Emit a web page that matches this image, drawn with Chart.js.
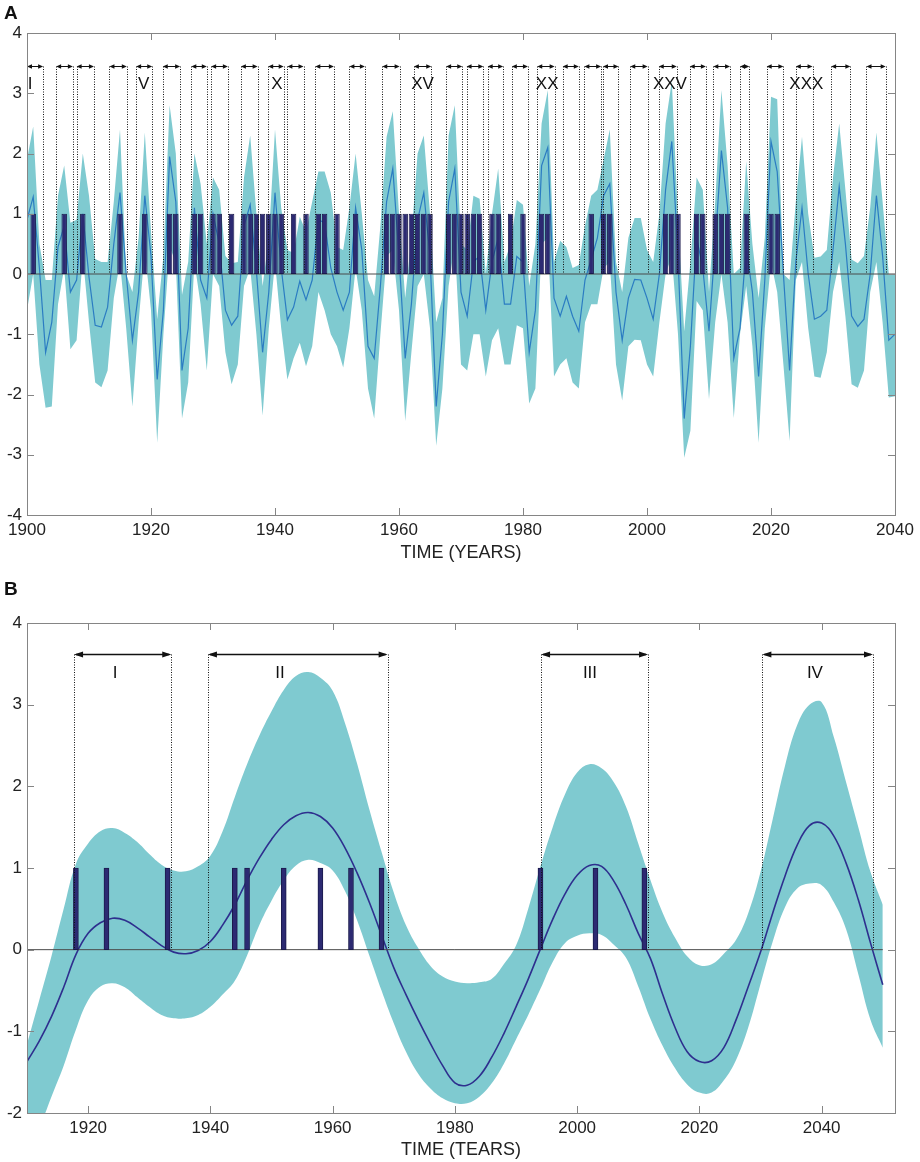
<!DOCTYPE html>
<html>
<head>
<meta charset="utf-8">
<script src="https://cdn.jsdelivr.net/npm/chart.js@4.4.1/dist/chart.umd.min.js"></script>
<style>
  html, body { margin: 0; padding: 0; background: #fff; }
  #wrap { position: relative; width: 920px; height: 1162px; font-family: "Liberation Sans", Arial, sans-serif; }
  .panel { position: absolute; left: 0; width: 920px; }
  .tag { position: absolute; left: 4px; font-weight: bold; font-size: 19px; line-height: 1; color: #111; }
</style>
</head>
<body>
<div id="wrap">
  <div class="panel" style="top:0;height:575px"><canvas id="chartA" width="920" height="575"></canvas></div>
  <div class="panel" style="top:575px;height:587px"><canvas id="chartB" width="920" height="587"></canvas></div>
  <div class="tag" style="top:3px">A</div>
  <div class="tag" style="top:579px">B</div>
</div>
<script>
// ---- panel A : yearly series 1900-2040 ----
const firstYearA = 1900;
const lineA = [
  0.9, 1.28, 0.1, -1.3, -0.8, 0.45, 0.8, -0.3, -0.1, 1.0,
  -0.05, -0.85, -0.88, -0.55, 0.5, 1.35, 0.0, -1.1, -0.3, 1.3,
  0.3, -1.75, -0.6, 1.95, 1.2, -1.6, -0.9, 1.1, -0.1, -0.4,
  1.0, 0.5, -0.6, -0.85, -0.7, 0.8, 1.15, 0.05, -1.3, -0.3,
  1.35, 0.1, -0.76, -0.55, -0.12, -0.43, -0.1, 0.9, 0.85, 0.1,
  -0.3, -0.6, -0.3, 1.1, 0.4, -1.2, -1.4, -0.2, 1.2, 1.75,
  0.3, -1.4, -0.5, 0.9, 1.35, 0.3, -2.2, -1.0, 1.2, 1.75,
  -0.3, -0.7, 0.2, 0.3, -0.6, 0.2, 0.6, -0.5, -0.5, 0.29,
  0.2, -1.3, -0.6, 1.8, 2.1, -0.4, -0.7, -0.37, -0.7, -0.95,
  -0.1, 0.24, 0.6, 1.3, 1.5, -0.3, -1.1, -0.4, -0.09, -0.1,
  -0.4, -0.75, 0.0, 1.4, 2.2, 0.3, -2.4, -1.2, 0.6, 0.1,
  -0.95, 0.5, 2.05, 1.1, -1.4, -0.9, 0.46, -0.3, -1.7, -0.1,
  2.2, 1.7, 0.0, -1.6, 0.2, 1.1, 0.0, -0.75, -0.7, -0.6,
  0.4, 1.45, 0.5, -0.7, -0.87, -0.75, 0.0, 1.3, 0.3, -1.1,
  -1.0
];
const upperA = [
  1.9, 2.45, 0.5, -0.1, -0.1, 1.3, 1.8, 0.85, 0.9, 2.0,
  1.3, 0.25, 0.2, 0.2, 1.2, 2.4, 0.0, -0.3, 0.6, 2.35,
  0.7, -0.75, 0.3, 2.8, 2.0, -0.35, 0.2, 2.0, 1.5, 0.5,
  1.6, 1.4, 0.3, 0.18, 0.2, 1.6, 2.3, 1.0, -0.2, 0.6,
  2.4, 1.1, 0.4, 0.35, 0.95, 0.7, 1.2, 1.7, 1.7, 1.35,
  0.45, 0.4, 1.1, 2.0, 1.0, -0.1, -0.37, 0.8, 2.28, 2.7,
  1.0, -0.4, 0.6, 2.0, 2.3, 1.0, -0.8, -0.4, 2.3, 2.8,
  0.5, 0.4, 1.3, 1.25, 0.0, 1.0, 1.75, 0.2, 0.5, 1.23,
  1.15, -0.2, 0.5, 2.5, 3.05, 0.2, 0.55, 0.45, 0.1, 0.15,
  0.8, 1.3, 1.4, 1.9, 2.4, 0.2, -0.3, 0.6, 0.93, 0.93,
  0.4, 0.2, 1.0, 2.5, 3.2, 0.9, -0.95, 0.2, 1.6, 1.4,
  -0.3, 1.2, 3.05, 1.8, 0.0, 0.1, 1.87, 0.5, -0.4, 0.6,
  2.94, 2.9, 0.0, -0.1, 1.2, 2.28, 1.0, 0.27, 0.29, 0.4,
  1.6, 2.5, 1.4, 0.24, 0.18, 0.3, 1.1, 2.35, 1.2, 0.0,
  0.0
];
const lowerA = [
  -0.6, 0.0, -1.5, -2.22, -2.2, -0.5, 0.1, -1.25, -1.1, 0.3,
  -0.8, -1.8, -1.88, -1.6, -0.4, 0.2, -0.9, -2.2, -0.8, 0.4,
  -0.6, -2.8, -1.0, 0.45, 0.2, -2.4, -1.8, 0.2, -0.5, -1.6,
  0.0, -0.2, -1.3, -1.83, -1.5, -0.2, 0.1, -1.0, -2.35, -0.9,
  0.2, -0.9, -1.75, -1.4, -1.14, -1.53, -1.2, -0.3, -0.6, -1.0,
  -1.2, -1.55, -0.9, 0.1, -0.6, -1.9, -2.4, -1.0, 0.3, 0.4,
  -0.6, -2.44, -1.3, -0.2, 0.0, -0.9, -2.85, -1.9, -0.2, 0.5,
  -1.5, -1.6, -1.0, -1.0, -1.7, -1.1, -0.9, -1.5, -1.5, -0.85,
  -0.9, -2.15, -1.9, 0.5, 0.6, -1.7, -1.5, -1.4, -1.8, -1.9,
  -0.8, -0.5, -0.5, 0.1, 0.2, -1.5, -2.1, -1.2, -1.09, -1.1,
  -1.5, -1.7, -0.8, 0.0, 0.3, -1.0, -3.05, -2.6, -0.45, -0.6,
  -2.08, -0.8, 0.0, -0.8, -2.39, -1.0, -0.2, -1.2, -2.8, -0.9,
  0.2, -0.3, -1.5, -2.77, -0.1, 0.2, -0.9, -1.7, -1.72, -1.3,
  -0.3, 0.2, -0.7, -1.83, -1.89, -1.6, -0.3, 0.2, -0.8, -2.05,
  -2.03
];
const barYearsA = [1901, 1906, 1909, 1915, 1919, 1923, 1924, 1927, 1928, 1930, 1931, 1933,
  1935, 1936, 1937, 1938, 1939, 1940, 1941, 1943, 1945, 1947, 1948, 1950, 1953,
  1958, 1959, 1960, 1961, 1962, 1963, 1964, 1965, 1968, 1969, 1970, 1971, 1972, 1973,
  1975, 1976, 1978, 1980, 1983, 1984, 1991, 1993, 1994, 2003, 2004, 2005,
  2008, 2009, 2011, 2012, 2013, 2016, 2020, 2021];
const cyclesA = [
  [1900.0, 1902.6], [1904.7, 1907.4], [1908.0, 1910.8], [1913.3, 1916.1], [1917.6, 1920.2],
  [1921.9, 1924.7], [1926.5, 1929.0], [1929.7, 1932.4], [1934.5, 1937.2], [1938.9, 1941.4],
  [1942.0, 1944.6], [1946.5, 1949.5], [1952.0, 1954.5], [1957.3, 1960.1], [1962.4, 1965.2],
  [1967.6, 1970.2], [1970.9, 1973.6], [1974.3, 1976.8], [1978.2, 1980.8], [1982.3, 1985.1],
  [1986.4, 1989.0], [1989.9, 1992.6], [1992.9, 1995.4], [1997.3, 2000.1], [2001.9, 2004.8],
  [2006.9, 2009.5], [2010.7, 2013.4], [2015.0, 2016.5], [2019.3, 2022.0], [2024.0, 2026.7],
  [2029.7, 2032.8], [2035.4, 2038.5]
];
const romanA = ['I', 'V', 'X', 'XV', 'XX', 'XXV', 'XXX'];
const romanYearA = [1900.5, 1918.8, 1940.3, 1963.8, 1983.9, 2003.7, 2025.7];
const xTicksA = [1900, 1920, 1940, 1960, 1980, 2000, 2020, 2040];
const yTicksA = [-4, -3, -2, -1, 0, 1, 2, 3, 4];

// ---- panel B : smoothed series 1910-2050, every 2 years ----
const firstYearB = 1910;
const stepB = 2;
const lineB = [
  -1.37, -1.12, -0.82, -0.46, -0.06, 0.2, 0.33, 0.385, 0.36, 0.27,
  0.16, 0.05, -0.03, -0.05, -0.01, 0.1, 0.3, 0.55, 0.85, 1.12,
  1.35, 1.53, 1.64, 1.68, 1.63, 1.49, 1.25, 0.94, 0.58, 0.18,
  -0.22, -0.55, -0.86, -1.15, -1.42, -1.63, -1.66, -1.55, -1.32, -1.03,
  -0.7, -0.36, 0.01, 0.37, 0.68, 0.91, 1.03, 1.02, 0.84, 0.55,
  0.2, -0.11, -0.55, -0.95, -1.25, -1.37, -1.36, -1.2, -0.86, -0.45,
  -0.03, 0.45, 0.9, 1.28, 1.52, 1.55, 1.39, 1.06, 0.61, 0.08,
  -0.43
];
const upperB = [
  -1.16, -0.62, -0.08, 0.5, 1.05, 1.3, 1.45, 1.49, 1.43, 1.32,
  1.17, 1.04, 0.97, 0.96, 1.02, 1.15, 1.45, 1.87, 2.27, 2.62,
  2.92, 3.18, 3.35, 3.4, 3.33, 3.17, 2.78, 2.28, 1.72, 1.2,
  0.7, 0.3, 0.02, -0.2, -0.33, -0.39, -0.41, -0.4, -0.36, -0.18,
  0.05, 0.5, 1.02, 1.5, 1.9, 2.17, 2.27, 2.22, 2.05, 1.75,
  1.3, 0.85, 0.45, 0.15, -0.08, -0.19, -0.18, -0.05, 0.12, 0.45,
  0.95, 1.6, 2.25, 2.75, 3.0, 3.03, 2.6, 2.05, 1.5, 0.95,
  0.55
];
const lowerB = [
  -2.6, -2.2, -1.8, -1.42, -0.98, -0.62, -0.45, -0.41, -0.46, -0.58,
  -0.7, -0.8, -0.84, -0.84, -0.8, -0.7, -0.55, -0.38, -0.07, 0.3,
  0.6, 0.85, 1.03, 1.1, 1.06, 0.97, 0.72, 0.36, -0.07, -0.5,
  -0.9, -1.25, -1.52, -1.7, -1.82, -1.88, -1.88, -1.8, -1.64, -1.4,
  -1.1, -0.8, -0.48, -0.15, 0.08, 0.17, 0.2, 0.18, 0.06, -0.1,
  -0.45, -0.85, -1.18, -1.45, -1.65, -1.75, -1.75, -1.6, -1.35, -0.95,
  -0.42, 0.1, 0.52, 0.75, 0.81, 0.79, 0.58, 0.25, -0.3, -0.86,
  -1.2
];
const barYearsB = [1918, 1923, 1933, 1944, 1946, 1952, 1958, 1963, 1968, 1994, 2003, 2011];
const cyclesB = [[1917.7, 1933.6], [1939.6, 1969.0], [1994.1, 2011.6], [2030.3, 2048.4]];
const romanB = ['I', 'II', 'III', 'IV'];
const romanYearB = [1924.4, 1951.4, 2002.1, 2038.9];
const xTicksB = [1920, 1940, 1960, 1980, 2000, 2020, 2040];
const yTicksB = [-2, -1, 0, 1, 2, 3, 4];

const fam = '"Liberation Sans", Arial, Helvetica, sans-serif';

// box with inward tick marks on all four sides
const framePlugin = {
  id: 'frame',
  afterDraw(chart) {
    const {ctx, chartArea: a, scales: {x, y}} = chart;
    ctx.save();
    ctx.strokeStyle = '#858585';
    ctx.lineWidth = 1;
    ctx.strokeRect(Math.round(a.left) + 0.5, Math.round(a.top) + 0.5, Math.round(a.width), Math.round(a.height));
    ctx.beginPath();
    x.ticks.forEach(t => {
      const px = Math.round(x.getPixelForValue(t.value)) + 0.5;
      ctx.moveTo(px, a.bottom); ctx.lineTo(px, a.bottom - 7);
      ctx.moveTo(px, a.top); ctx.lineTo(px, a.top + 7);
    });
    y.ticks.forEach(t => {
      const py = Math.round(y.getPixelForValue(t.value)) + 0.5;
      ctx.moveTo(a.left, py); ctx.lineTo(a.left + 7, py);
      ctx.moveTo(a.right, py); ctx.lineTo(a.right - 7, py);
    });
    ctx.stroke();
    ctx.restore();
  }
};

// dotted cycle limits, double arrows and roman numerals
const cyclePlugin = {
  id: 'cycles',
  afterDatasetsDraw(chart, args, o) {
    const {ctx, scales: {x, y}} = chart;
    const y0 = y.getPixelForValue(0);
    const ya = Math.round(y.getPixelForValue(o.arrowY)) + 0.5;
    ctx.save();
    ctx.strokeStyle = '#111';
    ctx.lineWidth = 1;
    ctx.setLineDash([1, 1.5]);
    o.cycles.forEach(c => c.forEach(v => {
      const px = Math.round(x.getPixelForValue(v)) + 0.5;
      ctx.beginPath(); ctx.moveTo(px, ya); ctx.lineTo(px, y0); ctx.stroke();
    }));
    ctx.setLineDash([]);
    ctx.lineWidth = o.arrowWidth;
    ctx.fillStyle = '#111';
    const head = (px, dir) => {
      ctx.beginPath();
      ctx.moveTo(px, ya);
      ctx.lineTo(px + dir * o.headLen, ya - o.headHalf);
      ctx.lineTo(px + dir * o.headLen, ya + o.headHalf);
      ctx.closePath(); ctx.fill();
    };
    o.cycles.forEach(([s, e]) => {
      const x1 = x.getPixelForValue(s), x2 = x.getPixelForValue(e);
      ctx.beginPath(); ctx.moveTo(x1 + 2, ya); ctx.lineTo(x2 - 2, ya); ctx.stroke();
      head(x1, 1); head(x2, -1);
    });
    ctx.font = o.font;
    ctx.textAlign = 'center';
    ctx.textBaseline = 'middle';
    o.labels.forEach((t, i) => ctx.fillText(t, x.getPixelForValue(o.labelX[i]), y.getPixelForValue(o.labelY)));
    ctx.restore();
  }
};

function panel(id, d) {
  const pts = arr => arr.map((v, i) => ({x: d.years[i], y: v}));
  const last = d.years[d.years.length - 1];
  return new Chart(document.getElementById(id), {
    type: 'line',
    data: {
      datasets: [
        {data: pts(d.upper), borderWidth: 0, pointRadius: 0, backgroundColor: '#7fcad0', fill: '+1',
         tension: d.tension, order: 10},
        {data: pts(d.lower), borderWidth: 0, pointRadius: 0, fill: false,
         tension: d.tension, order: 10},
        {data: pts(d.line), borderColor: d.lineColor, borderWidth: d.lineWidth, pointRadius: 0, fill: false,
         tension: d.tension, order: 6},
        {data: [{x: d.years[0], y: 0}, {x: last, y: 0}], borderColor: '#4a4a4a', borderWidth: 1,
         pointRadius: 0, fill: false, order: 5},
        {type: 'bar', data: d.bars.map(b => ({x: b, y: 1})), backgroundColor: '#2c2a72',
         borderColor: '#1b1a4c', borderWidth: 1, borderSkipped: false,
         barPercentage: d.barPct, categoryPercentage: 1, barThickness: d.barThickness, order: 2}
      ]
    },
    options: {
      responsive: false,
      animation: false,
      events: [],
      layout: {padding: {top: d.padTop, right: 25, left: 0, bottom: 0}},
      plugins: {
        legend: {display: false},
        tooltip: {enabled: false},
        cycles: {cycles: d.cycles, arrowY: d.arrowY, labels: d.roman, labelX: d.romanX, labelY: d.romanY,
                 font: d.romanFont, arrowWidth: d.arrowWidth, headLen: d.headLen, headHalf: d.headHalf}
      },
      scales: {
        x: {
          type: 'linear', min: d.xMin, max: d.xMax, offset: false,
          grid: {display: false, drawTicks: false}, border: {display: false},
          afterBuildTicks: s => { s.ticks = d.xTicks.map(v => ({value: v})); },
          afterFit: s => { s.height = d.xAxisH; },
          ticks: {font: {family: fam, size: 17}, color: '#222', padding: 5, maxRotation: 0, autoSkip: false,
                  callback: v => String(v)},
          title: {display: true, text: d.xTitle, font: {family: fam, size: 18}, color: '#222',
                  padding: {top: 0, bottom: d.titlePad}}
        },
        y: {
          type: 'linear', min: d.yMin, max: d.yMax,
          grid: {display: false, drawTicks: false}, border: {display: false},
          afterBuildTicks: s => { s.ticks = d.yTicks.map(v => ({value: v})); },
          afterFit: s => { s.width = 27; },
          ticks: {font: {family: fam, size: 17}, color: '#222', padding: 5, callback: v => String(v)}
        }
      }
    },
    plugins: [cyclePlugin, framePlugin]
  });
}

panel('chartA', {
  years: lineA.map((v, i) => firstYearA + i),
  line: lineA, upper: upperA, lower: lowerA, bars: barYearsA,
  tension: 0, lineColor: '#2b7cc2', lineWidth: 1.2, barThickness: undefined, barPct: 0.88,
  cycles: cyclesA, arrowY: 3.45, roman: romanA, romanX: romanYearA, romanY: 3.15,
  romanFont: '17px ' + fam, arrowWidth: 1, headLen: 5, headHalf: 2.2,
  xMin: 1900, xMax: 2040, yMin: -4, yMax: 4, xTicks: xTicksA, yTicks: yTicksA,
  padTop: 33, xAxisH: 60, titlePad: 11, xTitle: 'TIME (YEARS)'
});

panel('chartB', {
  years: lineB.map((v, i) => firstYearB + i * stepB),
  line: lineB, upper: upperB, lower: lowerB, bars: barYearsB,
  tension: 0.4, lineColor: '#2e2f8e', lineWidth: 1.6, barThickness: 5, barPct: 1,
  cycles: cyclesB, arrowY: 3.62, roman: romanB, romanX: romanYearB, romanY: 3.38,
  romanFont: '17px ' + fam, arrowWidth: 1.4, headLen: 9, headHalf: 3,
  xMin: 1910, xMax: 2052, yMin: -2, yMax: 4, xTicks: xTicksB, yTicks: yTicksB,
  padTop: 48, xAxisH: 49, titlePad: 1, xTitle: 'TIME (TEARS)'
});
</script>
</body>
</html>
